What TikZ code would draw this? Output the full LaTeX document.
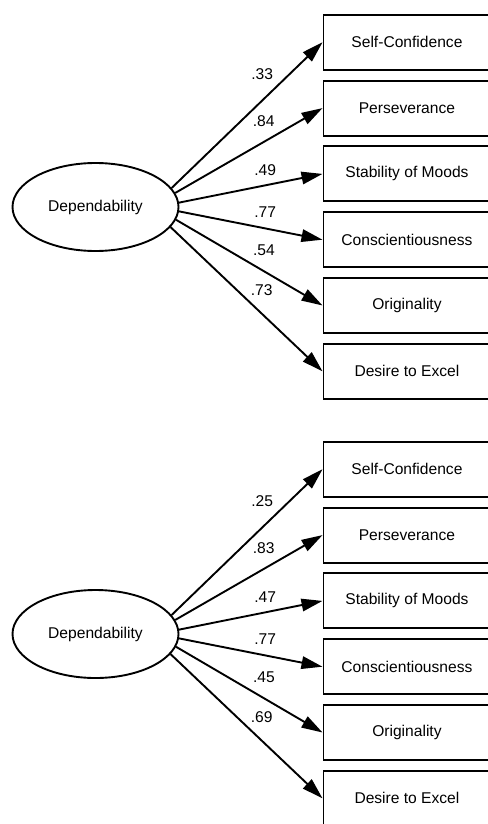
\documentclass[tikz,border=0pt]{standalone}
\usepackage{fontspec}
\setmainfont{Liberation Sans}
\usetikzlibrary{arrows.meta,shapes.geometric}
\begin{document}
\begin{tikzpicture}[x=1pt,y=-1pt,line width=1.9pt,
  every node/.style={font=\fontsize{15.6}{18}\selectfont},
  latent/.style={draw,ellipse,minimum width=166pt,minimum height=88pt,inner sep=0pt},
  item/.style={draw,minimum width=167pt,minimum height=55pt,anchor=west},
  load/.style={-{Triangle[length=21pt,width=12.5pt]}}]
\useasboundingbox (0,0) rectangle (487,824);
\foreach \p/\dy in {A/0,B/427} {
  \node[latent] (\p) at (95.5,207+\dy) {Dependability};
  \foreach \t [count=\i] in {Self-Confidence,Perseverance,Stability of Moods,
                             Conscientiousness,Originality,Desire to Excel}
    \node[item] (\p\i) at (322.5,{42.3+65.8*(\i-1)+\dy}) {\t};
}
\foreach \i/\a/\d/\v/\w in {1/14/17/.33/.25, 2/10/11/.84/.83, 3/3/5.5/.49/.47,
                            4/-3/7/.77/.77, 5/-9/11/.54/.45, 6/-15/14/.73/.69} {
  \draw[load] (A.\a) -- (A\i.west) node[pos=.6,above=\d pt] (a\i) {\v};
  \draw[load] (B.\a) -- (B\i.west) node[pos=.6,above=\d pt] (b\i) {\w};
}
\end{tikzpicture}
\end{document}
